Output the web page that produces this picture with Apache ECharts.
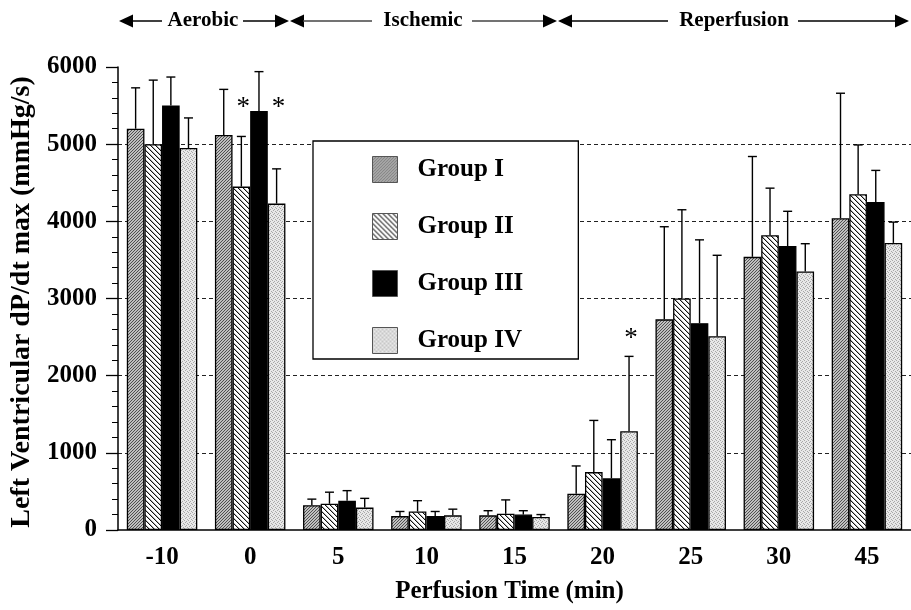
<!DOCTYPE html>
<html>
<head>
<meta charset="utf-8">
<script src="https://cdn.jsdelivr.net/npm/echarts@6/dist/echarts.min.js"></script>
<style>
html,body{margin:0;padding:0;background:#fff;}
#chart{width:911px;height:610px;}
</style>
</head>
<body>
<div id="chart"></div>
<script>
// ---- data ----
const categories = ['-10', '0', '5', '10', '15', '20', '25', '30', '45'];
const groupNames = ['Group I', 'Group II', 'Group III', 'Group IV'];
const groupI   = [5200, 5120, 320, 180, 190, 470, 2730, 3540, 4040];
const groupII  = [5000, 4450, 340, 240, 210, 750, 3000, 3820, 4350];
const groupIII = [5500, 5430, 380, 180, 200, 670, 2680, 3680, 4250];
const groupIV  = [4950, 4230, 290, 190, 170, 1280, 2510, 3350, 3720];
const sdI   = [530, 590, 80, 60, 60, 360, 1200, 1300, 1620];
const sdII  = [830, 650, 150, 140, 180, 670, 1150, 610, 640];
const sdIII = [370, 510, 130, 60, 50, 500, 1080, 450, 410];
const sdIV  = [390, 450, 120, 80, 30, 970, 1050, 360, 270];
// significance marks: [category index, y value of mark, group index]
const sigMarks = [[1, 5520, 1], [1, 5520, 3], [5, 2530, 3]];
const yTicks = [0, 1000, 2000, 3000, 4000, 5000, 6000];
const phaseLabels = ['Aerobic', 'Ischemic', 'Reperfusion'];

// ---- patterns ----
function makePattern(kind) {
  const c = document.createElement('canvas');
  const ctx = c.getContext('2d');
  let n;
  if (kind === 1) {
    n = 3; c.width = n; c.height = n;
    for (let x = 0; x < n; x++) for (let y = 0; y < n; y++) {
      ctx.fillStyle = ((x + y) % 3 === 0) ? '#505050' : '#c0c0c0';
      ctx.fillRect(x, y, 1, 1);
    }
  } else if (kind === 2) {
    n = 5; c.width = n; c.height = n;
    for (let x = 0; x < n; x++) for (let y = 0; y < n; y++) {
      const d = ((x - y) % n + n) % n;
      ctx.fillStyle = d === 0 ? '#111' : (d === 1 ? '#b0b0b0' : '#fff');
      ctx.fillRect(x, y, 1, 1);
    }
  } else {
    n = 4; c.width = n; c.height = n;
    ctx.fillStyle = '#e8e8e8'; ctx.fillRect(0, 0, n, n);
    ctx.fillStyle = '#a8a8a8';
    [[0,0],[2,1],[1,2],[3,3]].forEach(p => ctx.fillRect(p[0], p[1], 1, 1));
  }
  return { image: c, repeat: 'repeat' };
}
const fills = [makePattern(1), makePattern(2), '#000', makePattern(4)];
const values = [groupI, groupII, groupIII, groupIV];
const sds = [sdI, sdII, sdIII, sdIV];

const FONT = 'Liberation Serif';
const CAT_GAP = 0.2;

const series = [];
values.forEach((vals, g) => {
  series.push({
    name: groupNames[g], type: 'bar', data: vals,
    barCategoryGap: '20%', barGap: '0%',
    itemStyle: { color: fills[g], borderColor: '#000', borderWidth: 1.3 },
    z: 2, silent: true
  });
});
values.forEach((vals, g) => {
  series.push({
    name: 'err' + g, type: 'custom', z: 4, silent: true,
    data: vals.map((v, i) => [i, v, sds[g][i]]),
    renderItem: function (params, api) {
      const ci = api.value(0), v = api.value(1), sd = api.value(2);
      const base = api.coord([ci, v]);
      const top = api.coord([ci, v + sd]);
      const band = api.size([1, 0])[0];
      const bw = band * (1 - CAT_GAP) / 4;
      const x = base[0] + (g - 1.5) * bw;
      const st = { stroke: '#000', lineWidth: 1.4 };
      return { type: 'group', children: [
        { type: 'line', shape: { x1: x, y1: base[1], x2: x, y2: top[1] }, style: st },
        { type: 'line', shape: { x1: x - 4.5, y1: top[1], x2: x + 4.5, y2: top[1] }, style: st }
      ]};
    }
  });
});
series.push({
  name: 'sig', type: 'custom', z: 5, silent: true,
  data: sigMarks,
  renderItem: function (params, api) {
    const ci = api.value(0), y = api.value(1), g = api.value(2);
    const p = api.coord([ci, y]);
    const band = api.size([1, 0])[0];
    const bw = band * (1 - CAT_GAP) / 4;
    const x = p[0] + (g - 1.5) * bw;
    return { type: 'text', x: x + 2, y: p[1] + 4, style: {
      text: '*', font: '27px "Liberation Serif"', fill: '#000',
      align: 'center', verticalAlign: 'middle' } };
  }
});

function arrowHead(tip, dir) {
  const b = tip - dir * 14;
  return { type: 'polygon', shape: { points: [[tip, 21], [b, 14.5], [b, 27.5]] }, style: { fill: '#000' } };
}
function hline(x1, x2, col) {
  return { type: 'line', shape: { x1: x1, y1: 21, x2: x2, y2: 21 }, style: { stroke: col || '#000', lineWidth: 1.5 } };
}
function htext(x, t) {
  return { type: 'text', x: x, y: 21, style: { text: t, font: 'bold 21px "Liberation Serif"', fill: '#000', align: 'center', verticalAlign: 'middle' } };
}

const option = {
  animation: false,
  backgroundColor: '#fff',
  grid: { left: 118, right: -2, top: 67, bottom: 80, containLabel: false },
  legend: {
    data: groupNames, orient: 'vertical', left: 313, top: 141, icon: 'rect',
    padding: [15, 55, 5, 59], itemWidth: 25, itemHeight: 26, itemGap: 30,
    backgroundColor: '#fff', borderColor: '#000', borderWidth: 1.3,
    selectedMode: false,
    itemStyle: { borderColor: '#555', borderWidth: 1 },
    textStyle: { fontFamily: FONT, fontWeight: 'bold', fontSize: 25, color: '#000', padding: [0, 0, 0, 15], lineHeight: 26 }
  },
  xAxis: {
    type: 'category', data: categories,
    axisLine: { lineStyle: { color: '#000', width: 1.5 } },
    axisTick: { show: false },
    axisLabel: { fontFamily: FONT, fontWeight: 'bold', fontSize: 25, color: '#000', margin: 15 },
    name: 'Perfusion Time (min)', nameLocation: 'middle', nameGap: 49,
    nameTextStyle: { fontFamily: FONT, fontWeight: 'bold', fontSize: 25, color: '#000', padding: [0, 10, 0, 0] }
  },
  yAxis: {
    type: 'value', min: yTicks[0], max: yTicks[yTicks.length - 1], interval: 1000,
    axisLine: { show: true, lineStyle: { color: '#000', width: 1.5 } },
    axisTick: { show: true, length: 12, lineStyle: { color: '#000', width: 1.3 } },
    minorTick: { show: true, splitNumber: 5, length: 6, lineStyle: { color: '#000', width: 1 } },
    axisLabel: { fontFamily: FONT, fontWeight: 'bold', fontSize: 25, color: '#000', margin: 21,
      formatter: function (v) { return String(v); } },
    splitLine: { show: true, showMinLine: false, showMaxLine: false, lineStyle: { color: '#222', width: 1, type: [4, 3] } },
    name: 'Left Ventricular dP/dt max (mmHg/s)', nameLocation: 'middle', nameGap: 82, nameRotate: 90,
    nameTextStyle: { fontFamily: FONT, fontWeight: 'bold', fontSize: 28, color: '#000', padding: [0, 7, 0, 0] }
  },
  graphic: [
    arrowHead(119, -1), hline(133, 162), htext(203, phaseLabels[0]), hline(243, 276),
    arrowHead(289, 1), arrowHead(290, -1), hline(303, 372, '#444'), htext(423, phaseLabels[1]),
    hline(472, 544, '#444'), arrowHead(557, 1), arrowHead(558, -1), hline(572, 668),
    htext(734, phaseLabels[2]), hline(798, 896), arrowHead(909, 1)
  ],
  series: series
};
const chart = echarts.init(document.getElementById('chart'), null, { renderer: 'canvas' });
chart.setOption(option);
</script>
</body>
</html>
